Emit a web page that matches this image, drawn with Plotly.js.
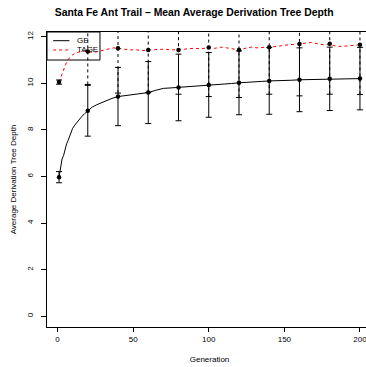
<!DOCTYPE html>
<html>
<head>
<meta charset="utf-8">
<script src="https://cdn.plot.ly/plotly-3.0.1.min.js"></script>
<style>
html,body{margin:0;padding:0;overflow:hidden;background:#fff;}
#chart{width:372px;height:367px;}
</style>
</head>
<body>
<div id="chart"></div>
<script>
// GE mean line (generation, depth)
var geGen  = [1,2,3,4,5,6,7,8,9,10,12,14,16,18,20,23,26,29,32,36,40,45,50,55,60,65,70,75,80,85,90,95,100,105,110,115,120,125,130,135,140,145,150,155,160,165,170,175,180,185,190,195,200];
var geLine = [5.97,6.45,6.75,6.9,7.2,7.4,7.55,7.75,7.92,8.07,8.25,8.43,8.57,8.7,8.82,8.98,9.08,9.17,9.25,9.35,9.43,9.47,9.5,9.54,9.6,9.7,9.78,9.8,9.82,9.85,9.87,9.9,9.93,9.95,9.97,9.99,10.02,10.03,10.05,10.08,10.1,10.1,10.12,10.13,10.15,10.16,10.16,10.18,10.19,10.18,10.18,10.19,10.2];
// TAGE mean line
var tageGen  = [1,2,3,4,5,6,7,8,10,12,14,16,18,20,23,26,30,34,37,40,44,48,52,56,60,65,70,75,80,85,90,95,100,104,108,112,116,120,124,128,132,136,140,145,150,155,160,164,168,172,176,180,184,188,192,196,200];
var tageLine = [10.05,10.25,10.45,10.6,10.75,10.9,11.0,11.1,11.22,11.3,11.33,11.38,11.37,11.36,11.33,11.35,11.4,11.48,11.52,11.5,11.46,11.43,11.44,11.4,11.43,11.46,11.46,11.44,11.43,11.47,11.5,11.48,11.53,11.5,11.55,11.52,11.48,11.43,11.5,11.55,11.52,11.53,11.55,11.58,11.63,11.65,11.69,11.72,11.75,11.7,11.65,11.66,11.6,11.58,11.6,11.63,11.65];
// error bar generations, means and standard deviations
var barGen = [1,20,40,60,80,100,120,140,160,180,200];
var geMean = [5.97,8.82,9.43,9.6,9.82,9.93,10.02,10.1,10.15,10.19,10.2];
var geSd   = [0.24,1.09,1.25,1.33,1.43,1.39,1.37,1.43,1.37,1.36,1.34];
var tageMean = [10.05,11.36,11.5,11.43,11.43,11.53,11.43,11.55,11.69,11.7,11.65];
var tageSd   = [0.09,1.41,1.92,1.83,1.9,2.1,2.04,2.02,2.23,2.17,2.13];
var seriesNames = ['GE', 'TAGE'];

var FONT = 'Liberation Sans, Arial, Helvetica, sans-serif';
var capHalf = 2;

// TAGE dashed vertical error bars
var tvx = [], tvy = [], tcx = [], tcy = [];
for (var i = 0; i < barGen.length; i++) {
  var g = barGen[i], lo = tageMean[i] - tageSd[i], hi = tageMean[i] + tageSd[i];
  tvx.push(g, g, null); tvy.push(lo, hi, null);
  tcx.push(g - capHalf, g + capHalf, null); tcy.push(lo, lo, null);
  tcx.push(g - capHalf, g + capHalf, null); tcy.push(hi, hi, null);
}

var traces = [
  {x: geGen, y: geLine, type: 'scatter', mode: 'lines', name: seriesNames[0],
   line: {color: '#000', width: 1}, showlegend: false},
  {x: tageGen, y: tageLine, type: 'scatter', mode: 'lines', name: seriesNames[1],
   line: {color: '#ff0000', width: 1, dash: '3px,3px'}, showlegend: false},
  {x: barGen, y: geMean, type: 'scatter', mode: 'markers', showlegend: false,
   marker: {color: '#000', size: 4.5},
   error_y: {type: 'data', array: geSd, visible: true, color: '#000', thickness: 1, width: 3}},
  {x: tvx, y: tvy, type: 'scatter', mode: 'lines', showlegend: false,
   line: {color: '#000', width: 1, dash: '3px,3px'}},
  {x: tcx, y: tcy, type: 'scatter', mode: 'lines', showlegend: false,
   line: {color: '#000', width: 1}},
  {x: barGen, y: tageMean, type: 'scatter', mode: 'markers', showlegend: false,
   marker: {color: '#000', size: 4.5}}
];

// hand-drawn legend (R style) in plot-area paper coordinates
var shapes = [
  {type: 'rect', xref: 'paper', yref: 'paper', x0: 0, x1: 0.163, y0: 0.905, y1: 1,
   line: {color: '#000', width: 1}, fillcolor: '#fff', layer: 'below'},
  {type: 'line', xref: 'paper', yref: 'paper', x0: 0.019, x1: 0.069, y0: 0.9705, y1: 0.9705,
   line: {color: '#000', width: 1}, layer: 'below'},
  {type: 'line', xref: 'paper', yref: 'paper', x0: 0.019, x1: 0.069, y0: 0.939, y1: 0.939,
   line: {color: '#ff0000', width: 1, dash: '3px,3px'}, layer: 'below'}
];
var annotations = [
  {xref: 'paper', yref: 'paper', x: 0.086, y: 0.9705, xanchor: 'left', yanchor: 'middle',
   text: seriesNames[0], showarrow: false, font: {family: FONT, size: 8, color: '#000'}},
  {xref: 'paper', yref: 'paper', x: 0.086, y: 0.939, xanchor: 'left', yanchor: 'middle',
   text: seriesNames[1], showarrow: false, font: {family: FONT, size: 8, color: '#000'}}
];

var layout = {
  width: 372, height: 367,
  margin: {l: 47, r: 0, t: 32, b: 40, pad: 0},
  paper_bgcolor: '#fff', plot_bgcolor: '#fff',
  font: {family: FONT, size: 8, color: '#000'},
  title: {text: 'Santa Fe Ant Trail \u2013 Mean Average Derivation Tree Depth',
          font: {family: FONT, size: 10.4, weight: 'bold', color: '#000'},
          xref: 'container', x: 0.522, xanchor: 'center', y: 0.965, yanchor: 'middle'},
  xaxis: {range: [-6.96, 207.96], tickmode: 'array', tickvals: [0,50,100,150,200],
          ticks: 'outside', ticklen: 4, tickcolor: '#000', tickwidth: 1,
          showline: true, linecolor: '#000', linewidth: 1, mirror: true,
          showgrid: false, zeroline: false,
          tickfont: {family: FONT, size: 8, color: '#000'},
          title: {text: 'Generation', font: {family: FONT, size: 8, color: '#000'}, standoff: 13}},
  yaxis: {range: [-0.46, 12.2], tickmode: 'array', tickvals: [0,2,4,6,8,10,12],
          ticks: 'outside', ticklen: 5, tickcolor: '#000', tickwidth: 1, tickangle: -90,
          ticklabelstandoff: 5,
          showline: true, linecolor: '#000', linewidth: 1, mirror: true,
          showgrid: false, zeroline: false,
          tickfont: {family: FONT, size: 8, color: '#000'},
          title: {text: 'Average Derivation Tree Depth', font: {family: FONT, size: 8, color: '#000'}, standoff: 7}},
  showlegend: false,
  shapes: shapes,
  annotations: annotations
};

Plotly.newPlot('chart', traces, layout, {staticPlot: true, displayModeBar: false});
</script>
</body>
</html>
